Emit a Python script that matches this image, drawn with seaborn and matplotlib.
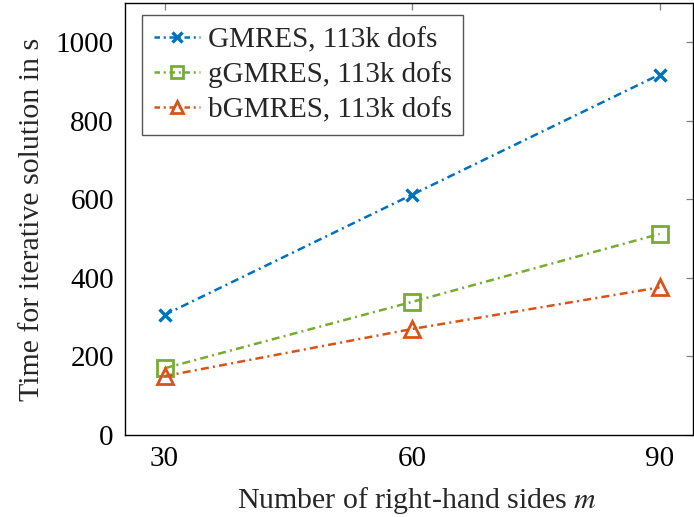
import matplotlib
matplotlib.use("Agg")
import matplotlib.pyplot as plt
import seaborn as sns
import pandas as pd
from matplotlib.lines import Line2D

# Measured solve times versus number of right-hand sides
rhs = [30, 60, 90]
gmres = [306, 612, 918]
ggmres = [170, 339, 512]
bgmres = [150, 270, 376]
labels = ["GMRES, 113k dofs", "gGMRES, 113k dofs", "bGMRES, 113k dofs"]
colors = ["#0072BD", "#77AC30", "#D95319"]
markers = ["x", "s", "^"]
xticks = [30, 60, 90]
yticks = [0, 200, 400, 600, 800, 1000]

sns.set_theme(style="white")
plt.rcParams["font.family"] = ["Liberation Serif", "DejaVu Serif"]
plt.rcParams["mathtext.fontset"] = "stix"

fig = plt.figure(figsize=(6.94, 5.17), dpi=100)
ax = fig.add_axes([0.180, 0.1586, 0.818, 0.8354])

lw = 1.8
dash = (3.2, 1.7, 0.8, 1.7)
msizes = [8, 11, 11]
mews = [2.4, 2.0, 2.0]
handles = []
for vals, name, col, mk, ms, mew in zip([gmres, ggmres, bgmres], labels, colors,
                                         markers, msizes, mews):
    df = pd.DataFrame({"m": rhs, "t": vals})
    sns.lineplot(data=df, x="m", y="t", color=col, linewidth=lw, ax=ax,
                 marker=mk, markersize=ms, markeredgewidth=mew,
                 markerfacecolor="none", markeredgecolor=col, dashes=False)
    ln = ax.lines[-1]
    ln.set_dashes(dash)
    h = Line2D([0], [0], color=col, linewidth=lw, marker=mk,
               markersize=ms * 0.85, markerfacecolor="none",
               markeredgecolor=col, markeredgewidth=mew)
    h.set_dashes((2.2, 1.5, 0.8, 1.5))
    handles.append(h)

ax.set_xlim(25.2, 94.0)
ax.set_ylim(0, 1100)
ax.set_xticks(xticks)
ax.set_yticks(yticks)
ax.tick_params(axis="both", direction="in", length=5, width=0.9, color="#808080",
               labelsize=21, labelcolor="black", top=True, right=True, pad=8)
for s in ax.spines.values():
    s.set_color("black")
    s.set_linewidth(1.0)

ax.set_xlabel("Number of right-hand sides $m$", fontsize=21.5, labelpad=6)
ax.xaxis.set_label_coords(0.515, -0.115)
ax.set_ylabel("Time for iterative solution in s", fontsize=21.5, labelpad=8)

leg = ax.legend(handles, labels, loc="upper left", fontsize=21, frameon=True,
                fancybox=False, edgecolor="#555555", framealpha=1,
                handlelength=1.6, handletextpad=0.25, borderpad=0.4,
                labelspacing=0.28, borderaxespad=0.0,
                bbox_to_anchor=(0.030, 0.972))
leg.get_frame().set_linewidth(1.0)

fig.savefig("out.png", dpi=100)
